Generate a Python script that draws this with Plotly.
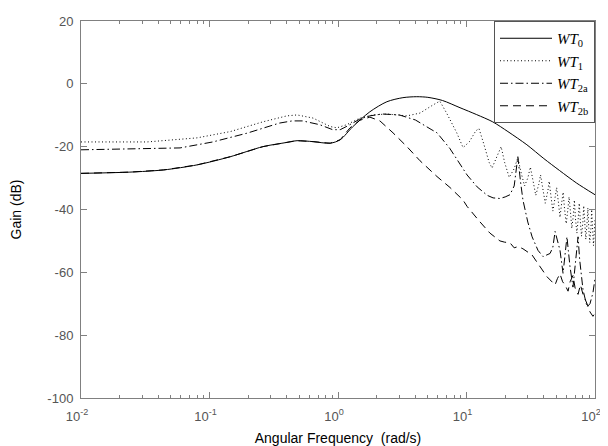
import plotly.graph_objects as go

# ---- data (rad/s, dB) ----
w_wt0 = [0.01, 0.024, 0.044, 0.08, 0.145, 0.26, 0.38, 0.48, 0.64, 0.87, 1.04, 1.3, 1.77,
         2.4, 3.2, 4.1, 5.0, 6.5, 8.9, 12, 16, 21, 29.5, 40, 53, 72, 100]
g_wt0 = [-28.5, -28.1, -27.4, -25.8, -23.2, -20.0, -18.8, -18.1, -18.4, -18.9, -17.8, -13.7, -8.9,
         -5.7, -4.4, -4.1, -4.3, -5.3, -7.6, -9.8, -12.1, -15.2, -19.4, -23.8, -27.6, -31.6, -35.3]

w_wt1 = [0.01, 0.0327, 0.08, 0.145, 0.26, 0.40, 0.48, 0.64, 0.87, 0.98, 1.17, 1.48, 1.88, 2.4,
         3.44, 4.35, 5.5, 6.2, 7.0, 8.4, 9.4, 10.5, 11.8, 12.5, 13.6, 15.0, 15.8, 17.0, 18.6,
         19.8, 21.5, 23.5, 25.1, 26.5, 28.3, 30.0, 31.4, 33.0, 34.6, 36.5, 37.7, 39.5, 41.0,
         43.0, 44.0, 45.5, 47.0, 49.0, 50.3, 52.0, 53.4, 55.0, 56.5, 58.0, 59.7, 61.5, 62.8,
         64.5, 66.0, 67.8, 69.1, 70.5, 72.3, 74.0, 75.4, 77.0, 78.5, 80.5, 81.7, 83.5, 84.8,
         86.5, 88.0, 89.5, 91.0, 93.0, 94.2, 96.0, 97.4, 100]
g_wt1 = [-18.5, -18.5, -17.2, -15.2, -12.1, -10.2, -9.9, -10.9, -13.6, -14.0, -13.0, -10.9, -9.9, -9.6,
         -10.2, -9.3, -6.7, -5.5, -9.3, -15.6, -20.3, -18.5, -15.0, -14.2, -19.0, -25.0, -26.8, -24.0, -20.0,
         -25.0, -29.8, -27.0, -23.5, -28.0, -32.5, -30.0, -26.5, -31.0, -35.5, -32.0, -29.0, -34.0, -38.0,
         -34.0, -31.0, -36.0, -40.5, -36.0, -33.0, -38.0, -42.5, -38.0, -34.5, -40.0, -44.5, -40.0, -36.0,
         -41.0, -46.0, -42.0, -37.0, -43.0, -47.5, -43.0, -38.0, -44.0, -48.5, -44.0, -38.8, -45.0, -49.5,
         -45.0, -39.5, -46.0, -50.5, -46.0, -40.0, -47.0, -51.5, -43.0]

w_wt2a = [0.01, 0.0327, 0.059, 0.106, 0.196, 0.35, 0.44, 0.53, 0.72, 0.91, 1.04, 1.2, 1.48, 1.77,
          2.2, 3.0, 4.0, 5.3, 5.9, 7.4, 8.9, 10.1, 12.1, 14.5, 16.1, 18.2, 20.0, 21.8, 23.5, 25.1,
          26.3, 27.5, 30.0, 32.4, 36.0, 39.4, 44.7, 47.0, 48.9, 51.0, 53.4, 56.4, 58.5, 60.5, 62.0,
          63.8, 67.4, 70.0, 72.0, 73.8, 76.0, 80.7, 86.7, 91.4, 96.4, 100]
g_wt2a = [-21.0, -20.7, -20.4, -18.5, -15.7, -12.5, -11.8, -11.8, -13.0, -14.6, -14.6, -13.3, -11.2, -10.2,
          -9.6, -9.9, -11.5, -14.5, -15.6, -20.5, -25.5, -29.0, -32.8, -35.5, -36.3, -36.5, -36.0, -35.3, -32.5, -23.2,
          -31.0, -37.0, -44.0, -48.7, -53.0, -55.0, -54.0, -52.0, -47.0, -50.0, -53.0, -60.3, -55.0, -48.7, -53.0,
          -58.0, -64.7, -58.0, -53.0, -48.7, -56.0, -65.6, -71.0, -70.0, -66.5, -62.0]

w_wt2b = [0.01, 0.024, 0.044, 0.08, 0.145, 0.26, 0.38, 0.48, 0.64, 0.87, 1.04, 1.24, 1.48, 1.77,
          2.12, 2.68, 3.44, 4.35, 5.89, 7.44, 9.4, 10.1, 12.4, 15.2, 18.2, 19.8, 21.8, 23.5, 25.2,
          27.5, 32.4, 37.3, 42.3, 48.9, 51.0, 53.4, 56.0, 58.4, 61.7, 64.0, 67.4, 70.0, 73.8, 77.0,
          80.7, 86.7, 91.4, 96.4, 100]
g_wt2b = [-28.5, -28.1, -27.4, -25.8, -23.2, -20.0, -18.8, -18.1, -18.4, -18.9, -17.8, -14.0, -11.6, -10.6,
          -11.8, -15.6, -20.0, -24.5, -29.5, -33.0, -37.0, -39.0, -43.4, -47.5, -50.0, -50.4, -50.6, -52.2, -51.8,
          -52.5, -54.5, -58.0, -61.4, -64.0, -62.0, -60.5, -63.0, -64.0, -66.0, -63.0, -61.0, -65.0, -67.0, -64.0,
          -67.0, -70.0, -72.6, -74.0, -73.0]

names = ["<i>WT</i><sub>0</sub>", "<i>WT</i><sub>1</sub>",
         "<i>WT</i><sub>2a</sub>", "<i>WT</i><sub>2b</sub>"]

x_tickvals = [0.01, 0.1, 1, 10, 100]
x_ticktext = ["10<sup>-2</sup>", "10<sup>-1</sup>", "10<sup>0</sup>", "10<sup>1</sup>", "10<sup>2</sup>"]
y_tickvals = [-100, -80, -60, -40, -20, 0, 20]
y_ticktext = ["-100", "-80", "-60", "-40", "-20", "0", "20"]

series = [
    (w_wt0, g_wt0, "solid", "spline"),
    (w_wt1, g_wt1, "1px,2.5px", "linear"),
    (w_wt2a, g_wt2a, "8px,3px,1.5px,3px", "linear"),
    (w_wt2b, g_wt2b, "8px,5px", "linear"),
]

fig = go.Figure()
for (wx, gy, dash, shape), nm in zip(series, names):
    fig.add_trace(go.Scatter(
        x=wx, y=gy, mode="lines", name=nm,
        line=dict(color="black", width=1, dash=dash, shape=shape, smoothing=0.8),
    ))

minor_vals = [m * 10 ** e for e in range(-2, 2) for m in range(2, 10)]
axcol = "#808080"
# the page body adds an 8px offset, so the figure is 600x438 with margins shifted by 8px
fig.update_layout(
    width=600, height=438,
    margin=dict(l=73, r=13, t=13, b=48),
    paper_bgcolor="white", plot_bgcolor="white",
    font=dict(family="Liberation Sans, Arial, sans-serif", size=13, color="#4d4d4d"),
    showlegend=True,
    legend=dict(x=1, y=1, xanchor="right", yanchor="top",
                bordercolor="#555555", borderwidth=1, bgcolor="white",
                font=dict(family="Liberation Serif, serif", size=15, color="black"),
                itemwidth=52, tracegroupgap=0),
    xaxis=dict(type="log", range=[-2, 2], tickmode="array",
               tickvals=x_tickvals, ticktext=x_ticktext, automargin=False,
               ticks="inside", ticklen=6, tickcolor=axcol, ticklabelstandoff=6,
               ticklabelshift=-4,
               showline=True, linecolor=axcol, linewidth=1, mirror="ticks",
               showgrid=False, zeroline=False,
               minor=dict(tickvals=minor_vals, ticks="inside", ticklen=3, tickcolor=axcol, showgrid=False),
               tickfont=dict(size=13, color="#555555"),
               title=dict(text="Angular Frequency  (rad/s)", font=dict(size=14, color="black"), standoff=12)),
    yaxis=dict(range=[-100, 20], tickmode="array", tickvals=y_tickvals, ticktext=y_ticktext,
               automargin=False,
               ticks="inside", ticklen=6, tickcolor=axcol, ticklabelstandoff=4,
               showline=True, linecolor=axcol, linewidth=1, mirror="ticks",
               showgrid=False, zeroline=False,
               tickfont=dict(size=13, color="#555555"),
               title=dict(text="Gain (dB)", font=dict(size=14, color="black"), standoff=27)),
)

fig.write_html("out.html")
